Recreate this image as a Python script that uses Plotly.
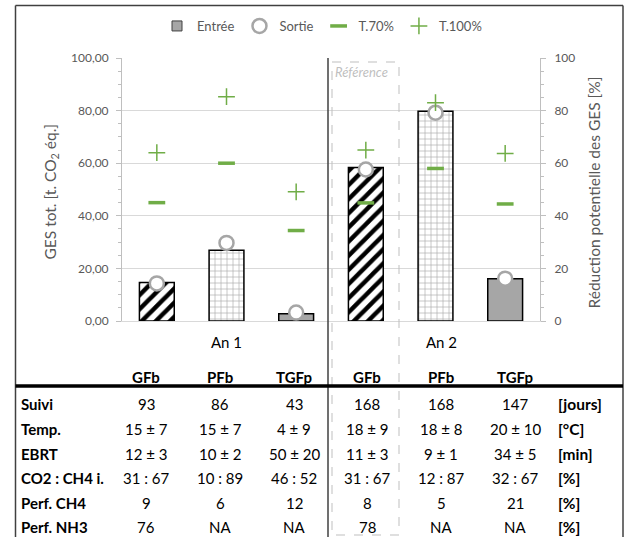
import plotly.graph_objects as go

W, H = 630, 537

# ---------------- data ----------------
years = ["An 1", "An 1", "An 1", "An 2", "An 2", "An 2"]
filters = ["GFb", "PFb", "TGFp", "GFb", "PFb", "TGFp"]
entree = [14.6, 26.9, 2.8, 58.4, 79.8, 16.1]
sortie = [14.3, 29.7, 3.2, 57.6, 79.2, 16.1]
t70 = [45.0, 60.0, 34.4, 44.9, 58.0, 44.5]
t100 = [64.0, 85.3, 49.1, 65.0, 83.0, 63.7]

row_labels = ["Suivi", "Temp.", "EBRT", "CO2 : CH4 i.", "Perf. CH4", "Perf. NH3"]
row_units = ["[jours]", "[°C]", "[min]", "[%]", "[%]", "[%]"]
suivi = ["93", "86", "43", "168", "168", "147"]
temp = ["15 ± 7", "15 ± 7", "4 ± 9", "18 ± 9", "18 ± 8", "20 ± 10"]
ebrt = ["12 ± 3", "10 ± 2", "50 ± 20", "11 ± 3", "9 ± 1", "34 ± 5"]
co2_ch4 = ["31 : 67", "10 : 89", "46 : 52", "31 : 67", "12 : 87", "32 : 67"]
perf_ch4 = ["9", "6", "12", "8", "5", "21"]
perf_nh3 = ["76", "NA", "NA", "78", "NA", "NA"]
table_rows = [suivi, temp, ebrt, co2_ch4, perf_ch4, perf_nh3]

# ---------------- helpers ----------------
def px(x):
    return x / W

def py(y):
    return 1 - y / H

cats = [f"{y} {f}" for y, f in zip(years, filters)]

FONT = "Lato"
GRAY_TXT = "#595959"
GREEN = "#70ad47"

style = {
    "GFb": dict(shape="/", fg="black", bg="white", size=10, sol=0.45),
    "PFb": dict(shape="+", fg="#a6a6a6", bg="white", size=6, sol=0.2),
    "TGFp": dict(shape="", fg="#a6a6a6", bg="#a6a6a6", size=8, sol=0.3),
}

fig = go.Figure()

for ftype, st in style.items():
    idx = [i for i, f in enumerate(filters) if f == ftype]
    fig.add_trace(go.Bar(
        x=[cats[i] for i in idx], y=[entree[i] for i in idx],
        name="Entrée", showlegend=False, width=0.5,
        marker=dict(
            color=st["bg"],
            line=dict(color="black", width=1.5),
            pattern=dict(shape=st["shape"], fgcolor=st["fg"], bgcolor=st["bg"],
                         size=st["size"], solidity=st["sol"], fillmode="replace"),
        ),
    ))

# legend proxy for Entrée
fig.add_trace(go.Scatter(
    x=[None], y=[None], mode="markers", name="Entrée",
    marker=dict(symbol="square", size=10, color="#a6a6a6",
                line=dict(color="#404040", width=1)),
))

fig.add_trace(go.Scatter(
    x=cats, y=sortie, mode="markers", name="Sortie",
    marker=dict(symbol="circle", size=14, color="white",
                line=dict(color="#a6a6a6", width=2.5)),
))

fig.add_trace(go.Scatter(
    x=cats, y=t70, mode="markers", name="T.70%", yaxis="y2",
    marker=dict(symbol="line-ew", size=12, color=GREEN,
                line=dict(color=GREEN, width=3.5)),
))

fig.add_trace(go.Scatter(
    x=cats, y=t100, mode="markers", name="T.100%", yaxis="y2",
    marker=dict(symbol="cross-thin", size=12, color=GREEN,
                line=dict(color=GREEN, width=1.5)),
))

x0, x1 = 122, 540
y_top, y_bot = 58, 321

fig.update_layout(
    width=W, height=H, autosize=False,
    margin=dict(l=0, r=0, t=0, b=0, pad=0, autoexpand=False),
    paper_bgcolor="white", plot_bgcolor="white",
    font=dict(family=FONT, size=13, color=GRAY_TXT),
    separators=",.",
    barmode="overlay",
    showlegend=True,
    legend=dict(
        orientation="h", x=px(322), xanchor="center", y=py(26), yanchor="middle",
        font=dict(family=FONT, size=13, color=GRAY_TXT),
        itemwidth=30, tracegroupgap=0, bgcolor="rgba(0,0,0,0)",
    ),
    xaxis=dict(
        type="category", categoryorder="array", categoryarray=cats,
        domain=[px(x0), px(x1)], range=[-0.5, 5.5], automargin=False,
        showticklabels=False, ticks="", showgrid=False,
        showline=True, linecolor="#d9d9d9", linewidth=1, zeroline=False,
    ),
    yaxis=dict(
        domain=[py(y_bot), py(y_top)], range=[0, 100], dtick=20, automargin=False,
        tickformat=".2f", gridcolor="#d9d9d9", gridwidth=1,
        showline=True, linecolor="#bfbfbf", linewidth=1,
        ticks="outside", ticklen=5, tickcolor="#bfbfbf",
        minor=dict(dtick=5, ticks="outside", ticklen=3, tickcolor="#bfbfbf", showgrid=False),
        zeroline=False, tickfont=dict(size=12, color=GRAY_TXT), ticklabelstandoff=5,
    ),
    yaxis2=dict(
        overlaying="y", side="right", anchor="x", range=[0, 100], dtick=20, automargin=False,
        showgrid=False, showline=True, linecolor="#bfbfbf", linewidth=1,
        ticks="outside", ticklen=5, tickcolor="#bfbfbf",
        minor=dict(dtick=5, ticks="outside", ticklen=3, tickcolor="#bfbfbf"),
        zeroline=False, tickfont=dict(size=12, color=GRAY_TXT), ticklabelstandoff=6,
    ),
)

ann = []
# axis titles
ann.append(dict(x=px(50), y=py((y_top + y_bot) / 2 + 2), xref="paper", yref="paper",
                text="GES tot. [t. CO<sub>2</sub> éq.]", textangle=-90, showarrow=False,
                font=dict(size=15.5, color=GRAY_TXT), xanchor="center", yanchor="middle"))
ann.append(dict(x=px(594), y=py((y_top + y_bot) / 2 + 3), xref="paper", yref="paper",
                text="Réduction potentielle des GES [%]", textangle=-90, showarrow=False,
                font=dict(size=15.5, color=GRAY_TXT), xanchor="center", yanchor="middle"))
# reference label
ann.append(dict(x=px(333), y=py(72), xref="paper", yref="paper", text="<i>Référence</i>",
                showarrow=False, font=dict(size=13, color="#bfbfbf"), xanchor="left", yanchor="middle"))

# table
col_x = [146, 220, 294, 367, 441, 515]
row_y = [404, 429, 454, 478, 503, 527]
year_x = {"An 1": 226, "An 2": 441}
for yr, xx in year_x.items():
    ann.append(dict(x=px(xx), y=py(342), xref="paper", yref="paper", text=yr, showarrow=False,
                    font=dict(size=15, color="black"), xanchor="center", yanchor="middle"))
for f, xx in zip(filters, col_x):
    ann.append(dict(x=px(xx), y=py(377), xref="paper", yref="paper", text=f"<b>{f}</b>",
                    showarrow=False, font=dict(size=15, color="black"),
                    xanchor="center", yanchor="middle"))
for lab, unit, vals, yy in zip(row_labels, row_units, table_rows, row_y):
    ann.append(dict(x=px(19), y=py(yy), xref="paper", yref="paper", text=f"<b>{lab}</b>",
                    showarrow=False, font=dict(size=15, color="black"),
                    xanchor="left", yanchor="middle"))
    ann.append(dict(x=px(556), y=py(yy), xref="paper", yref="paper", text=f"<b>{unit}</b>",
                    showarrow=False, font=dict(size=15.5, color="black"),
                    xanchor="left", yanchor="middle"))
    for v, xx in zip(vals, col_x):
        ann.append(dict(x=px(xx), y=py(yy), xref="paper", yref="paper", text=v,
                        showarrow=False, font=dict(size=15, color="black"),
                        xanchor="center", yanchor="middle"))
fig.update_layout(annotations=ann)

shapes = []
FRAME = "#404040"
R = 623
# outer frame (left, top, right)
shapes.append(dict(type="line", xref="paper", yref="paper", x0=px(15.5), x1=px(15.5), y0=py(5.5), y1=py(540),
                   line=dict(color=FRAME, width=1.5)))
shapes.append(dict(type="line", xref="paper", yref="paper", x0=px(15.5), x1=px(R), y0=py(5.5), y1=py(5.5),
                   line=dict(color=FRAME, width=1.5)))
shapes.append(dict(type="line", xref="paper", yref="paper", x0=px(R), x1=px(R), y0=py(5.5), y1=py(540),
                   line=dict(color=FRAME, width=1.5)))
# divider between years
shapes.append(dict(type="line", xref="paper", yref="paper", x0=px(328), x1=px(328), y0=py(58), y1=py(540),
                   line=dict(color=FRAME, width=1.5)))
# reference dashed box
shapes.append(dict(type="rect", xref="paper", yref="paper", x0=px(332), x1=px(399), y0=py(62), y1=py(535),
                   line=dict(color="#bfbfbf", width=1, dash="dash")))
# thick table line
shapes.append(dict(type="line", xref="paper", yref="paper", x0=px(15.5), x1=px(R), y0=py(386), y1=py(386),
                   line=dict(color="black", width=3.5)))
fig.update_layout(shapes=shapes)

fig.write_html("out.html", config={"displayModeBar": False},
               post_script="document.body.style.margin='0';")
